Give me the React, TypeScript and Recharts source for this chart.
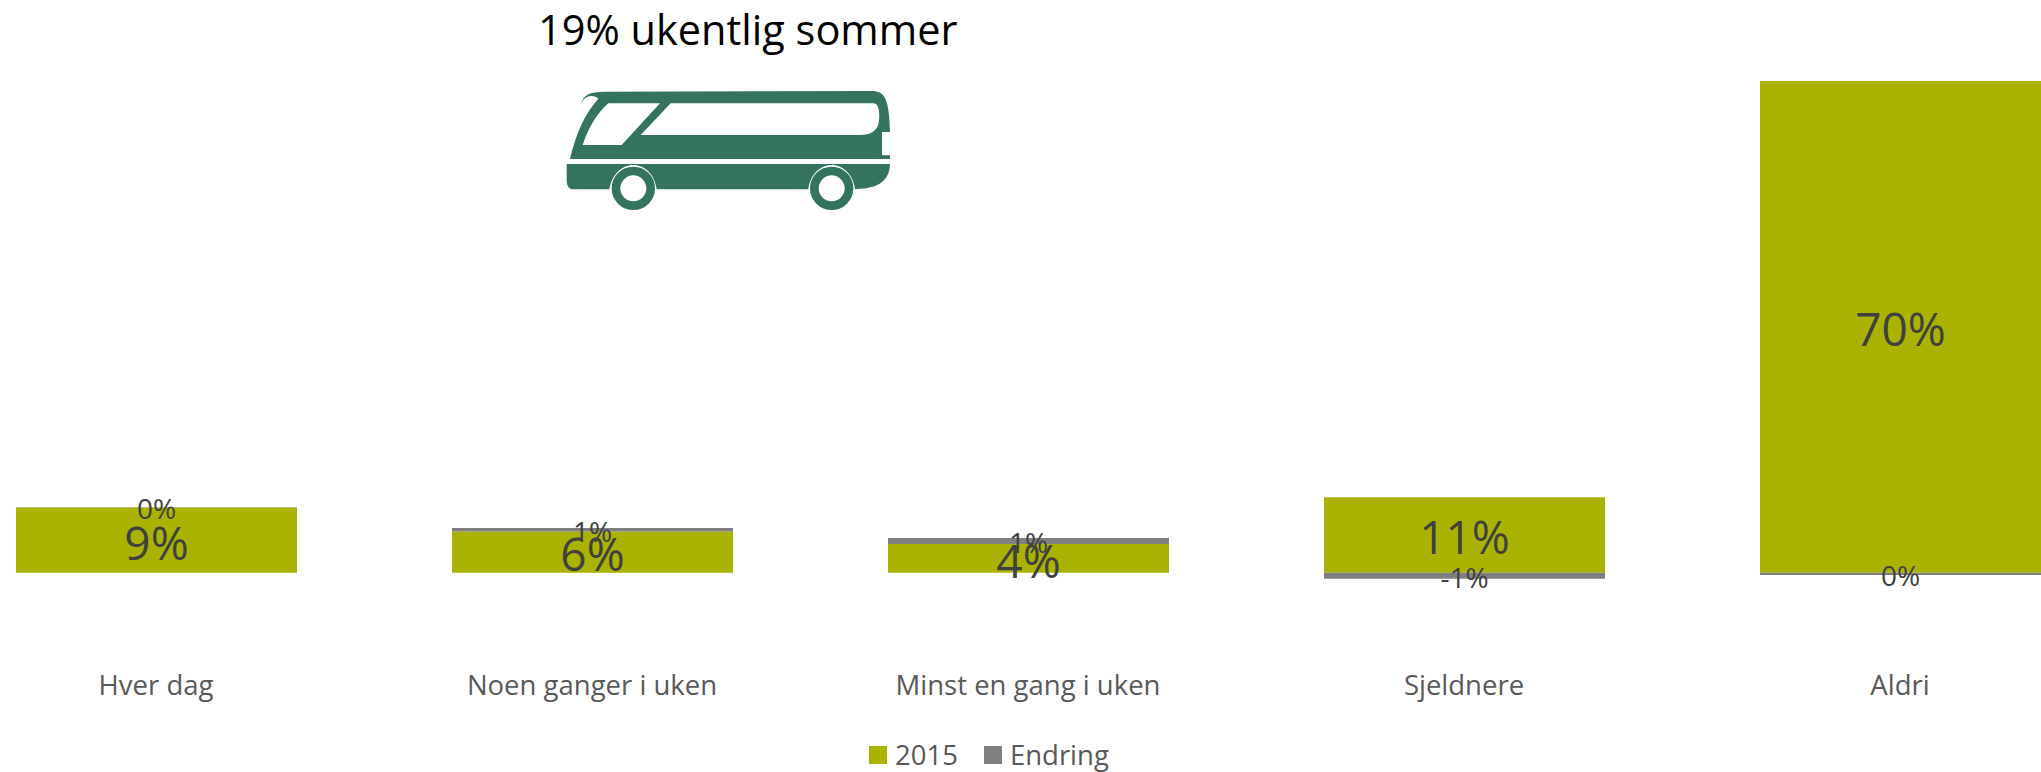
import React from "react";
import { BarChart, Bar, XAxis, YAxis, LabelList, Legend } from "recharts";

const categories = ["Hver dag", "Noen ganger i uken", "Minst en gang i uken", "Sjeldnere", "Aldri"];
const values2015 = [9.3, 5.9, 4.1, 10.75, 70];
const valuesEndring = [0.05, 0.5, 0.85, -0.85, -0.3];
const title = "19% ukentlig sommer";

const data = categories.map((name, i) => ({ name, y2015: values2015[i], endring: valuesEndring[i] }));
const FONT = "'Open Sans', sans-serif";
const fmt = (v: any) => `${Math.round(Number(v)) + 0}%`;

const LegendContent = (props: any) => (
  <div style={{ display: "flex", alignItems: "center", fontFamily: FONT, fontSize: 27.5, color: "#595959", lineHeight: "30px" }}>
    {(props.payload || []).map((p: any, i: number) => (
      <div key={i} style={{ display: "flex", alignItems: "center", marginRight: i === 0 ? 26 : 0 }}>
        <span style={{ display: "inline-block", width: 18, height: 18, background: p.color, marginRight: 8 }} />
        <span>{p.value}</span>
      </div>
    ))}
  </div>
);

const BUS = "#33735f";
const Bus = () => (
  <svg width={420} height={230} viewBox="0 0 1260 690" style={{ position: "absolute", left: 520, top: 0 }}>
    <path
      fill={BUS}
      fillRule="evenodd"
      d="M150 477 C168 400 195 340 235 296 C225 284 200 285 190 300 L183 312 C190 285 210 275 250 275 L1060 273 C1095 275 1108 300 1110 396 L1086 396 L1086 466 L1110 466 L1110 477 Z M188 435 C205 385 230 340 265 310 L420 310 L305 435 Z M362 405 L452 310 L1062 310 C1078 312 1080 340 1076 370 C1070 395 1050 405 1020 405 Z"
    />
    <path
      fill={BUS}
      d="M140 492 L1110 492 C1108 540 1080 565 1010 567 L1005 567 C1000 525 970 495 935 495 C900 495 870 525 865 568 L410 568 C405 525 375 495 340 495 C305 495 275 525 268 568 L160 568 C145 568 140 555 140 540 Z"
    />
    <circle cx={340} cy={565} r={52} fill="#fff" stroke={BUS} strokeWidth={26} />
    <circle cx={935} cy={565} r={52} fill="#fff" stroke={BUS} strokeWidth={26} />
  </svg>
);

export default function App() {
  return (
    <div style={{ position: "absolute", left: 0, top: 0, width: 2041, height: 772, overflow: "hidden", background: "#fff" }}>
      <div style={{ position: "absolute", left: -62.5, top: 0 }}>
        <BarChart
          width={2180}
          height={772}
          data={data}
          stackOffset="sign"
          barSize={281}
          margin={{ top: 81, right: 0, bottom: 34, left: 0 }}
        >
          <XAxis
            dataKey="name"
            axisLine={false}
            tickLine={false}
            height={100}
            interval={0}
            orientation="bottom"
            tickMargin={61}
            tick={{ fontFamily: FONT, fontSize: 27.5, fill: "#595959" }}
          />
          <YAxis hide domain={[-5, 70]} />
          <Legend
            verticalAlign="bottom"
            height={30}
            content={<LegendContent />}
            wrapperStyle={{ left: 931.5, bottom: 2, width: 300 }}
          />
          <Bar dataKey="y2015" name="2015" stackId="a" fill="#aab400" isAnimationActive={false}>
            <LabelList dataKey="y2015" position="center" dy={3} formatter={fmt} style={{ fontFamily: FONT, fontSize: 46, fill: "#404040" }} />
          </Bar>
          <Bar dataKey="endring" name="Endring" stackId="a" fill="#7f7f7f" isAnimationActive={false}>
            <LabelList dataKey="endring" position="center" dy={2} formatter={fmt} style={{ fontFamily: FONT, fontSize: 28, fill: "#404040" }} />
          </Bar>
        </BarChart>
      </div>
      <div style={{ position: "absolute", left: 538, top: 0, fontFamily: FONT, fontSize: 41.5, lineHeight: "58px", color: "#000", whiteSpace: "nowrap" }}>
        {title}
      </div>
      <Bus />
    </div>
  );
}
